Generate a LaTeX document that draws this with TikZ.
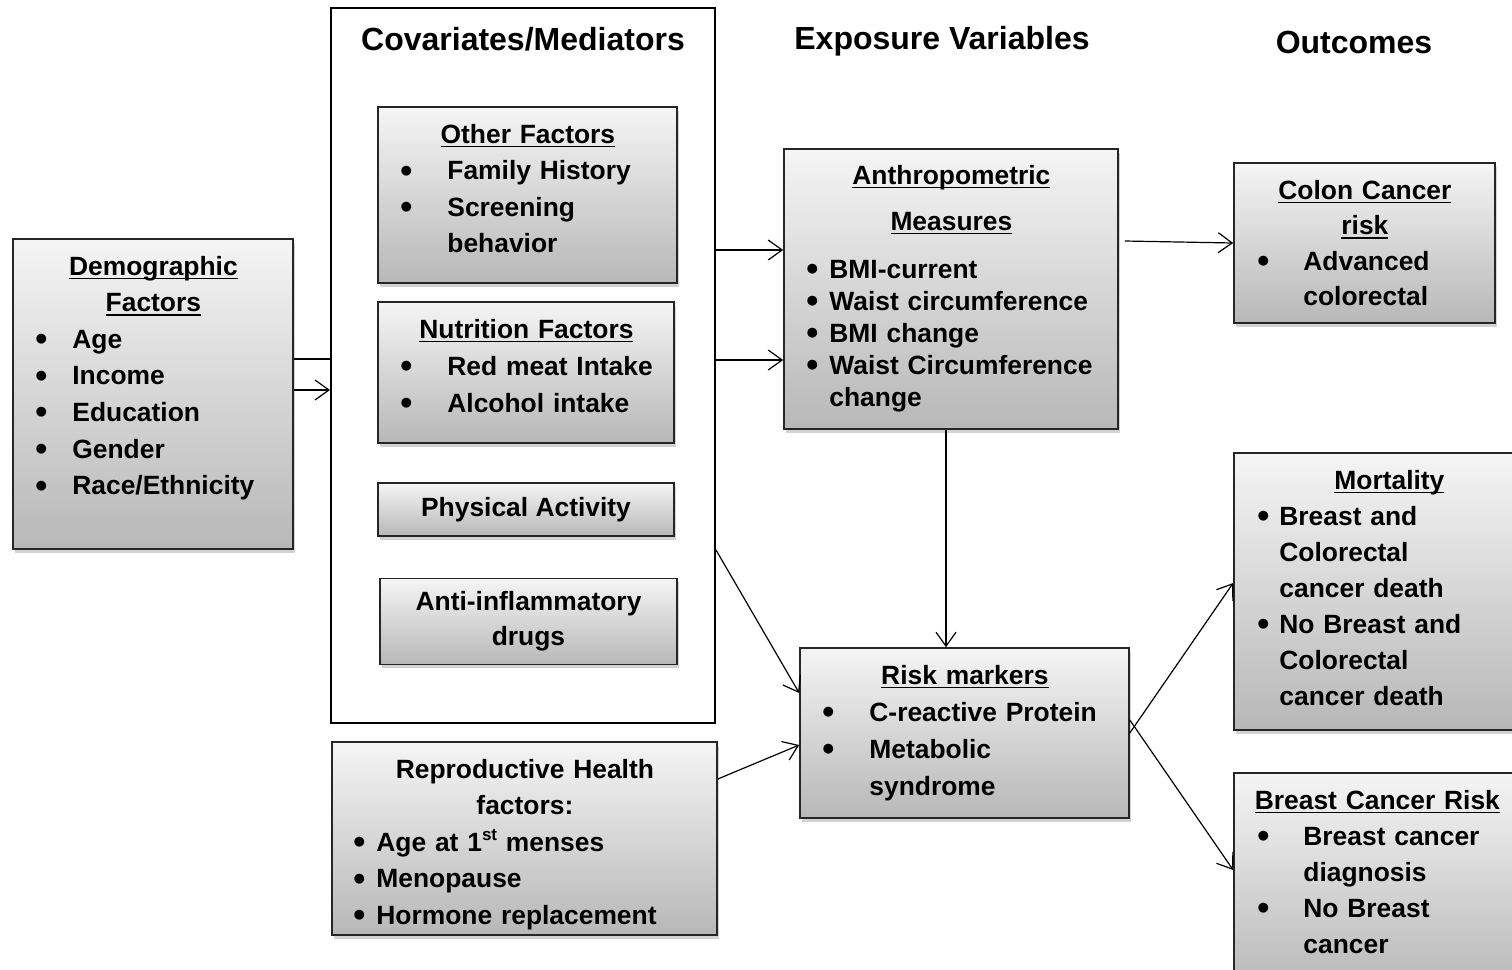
\documentclass[tikz,border=0pt]{standalone}
\usepackage{fontspec}
\setmainfont{Liberation Sans}
\usepackage{graphicx}
\usetikzlibrary{arrows.meta,shadows}

\newlength{\BulletIndent}
\newcommand{\uln}[1]{\mbox{\setbox0\hbox{#1}\rlap{\rule[-2.2pt]{\wd0}{0.9pt}}\box0}}
\newcommand{\hd}[1]{\makebox[\linewidth]{\uln{#1}}}
\newcommand{\ctr}[1]{\makebox[\linewidth]{#1}}
\newcommand{\bl}[1]{\mbox{\makebox[\BulletIndent][l]{\raisebox{-1.2pt}{\scalebox{1.3}{\textbullet}}}#1}}
\newcommand{\nx}[1]{\mbox{\hspace*{\BulletIndent}#1}}

\tikzstyle{Block}=[rectangle,draw=black!85,line width=0.8pt,top color=black!4,bottom color=black!28,
  drop shadow={shadow xshift=1.2pt,shadow yshift=-1.8pt,opacity=0.35}]
\tikzstyle{Frame}=[rectangle,draw=black,line width=1pt,fill=white]
\tikzstyle{ListText}=[anchor=base west,inner sep=0pt,align=left]
\tikzstyle{Title}=[anchor=base,inner sep=0pt,font=\bfseries\fontsize{16}{19}\selectfont]
\tikzstyle{ArrowObject}=[black,line width=0.6pt,-{Straight Barb[length=7pt,width=10pt]}]
\tikzstyle{LineObject}=[black,line width=0.6pt]
\tikzset{Indent/.style={execute at begin node={\setlength{\BulletIndent}{#1}}}}

\begin{document}
\begin{tikzpicture}[x=0.5pt, y=-0.5pt, font=\bfseries\fontsize{13.2}{18.3}\selectfont]
		\clip (0,0) rectangle (1512,970);
		
		% Covariates/Mediators frame
		\draw(523,365.5) node[Frame,minimum width=192pt,minimum height=357.5pt] (CovBox) {};
		
		% Column titles
		\draw(523,50) node[Title] (CovTitle) {Covariates/Mediators};
		\draw(942,49) node[Title] (ExpTitle) {Exposure Variables};
		\draw(1354,53) node[Title] (OutTitle) {Outcomes};
		
		% Demographic factors
		\draw(153,394) node[Block,minimum width=140pt,minimum height=155pt] (DemoBox) {};
		\draw(35,275) node[ListText,Indent=18.5pt,text width=118pt] (DemoText)
		  {\hd{Demographic}\\ \hd{Factors}\\ \bl{Age}\\ \bl{Income}\\ \bl{Education}\\ \bl{Gender}\\ \bl{Race/Ethnicity}};
		
		% Covariates
		\draw(527.5,195) node[Block,minimum width=149.5pt,minimum height=88pt] (OtherBox) {};
		\draw(400,143) node[ListText,Indent=23.5pt,text width=127.5pt] (OtherText)
		  {\hd{Other Factors}\\ \bl{Family History}\\ \bl{Screening}\\ \nx{behavior}};
		\draw(526,372.5) node[Block,minimum width=148pt,minimum height=70.5pt] (NutriBox) {};
		\draw(400,338) node[ListText,Indent=23.5pt,text width=126pt,font=\bfseries\fontsize{13.2}{18.5}\selectfont] (NutriText)
		  {\hd{Nutrition Factors}\\ \bl{Red meat Intake}\\ \bl{Alcohol intake}};
		\draw(526,509.5) node[Block,minimum width=148pt,minimum height=26.5pt] (PhysBox) {Physical Activity};
		\draw(528.5,621.5) node[Block,minimum width=148.5pt,minimum height=43pt,align=center,
		  font=\bfseries\fontsize{13.2}{17.5}\selectfont] (DrugBox) {Anti-inflammatory\\drugs};
		
		% Reproductive health
		\draw(524.5,838.5) node[Block,minimum width=192.5pt,minimum height=96.5pt] (ReproBox) {};
		\draw(353,778) node[ListText,Indent=11.5pt,text width=171.5pt] (ReproText)
		  {\ctr{Reproductive Health}\\ \ctr{factors:}\\ \bl{Age at 1\raisebox{5.5pt}{\fontsize{8.5}{9}\selectfont st} menses}\\ \bl{Menopause}\\ \bl{Hormone replacement}};
		
		% Exposure variables
		\draw(951,289) node[Block,minimum width=167pt,minimum height=140pt] (AnthroBox) {};
		\draw(806,184) node[ListText,Indent=11.5pt,text width=145pt,font=\bfseries\fontsize{13.2}{16}\selectfont] (AnthroText)
		  {\hd{Anthropometric}\\[7pt] \hd{Measures}\\[8pt] \bl{BMI-current}\\ \bl{Waist circumference}\\ \bl{BMI change}\\ \bl{Waist Circumference}\\ \nx{change}};
		\draw(964.5,733) node[Block,minimum width=164.5pt,minimum height=85pt] (RiskBox) {};
		\draw(822,684) node[ListText,Indent=23.5pt,text width=142.5pt,font=\bfseries\fontsize{13.2}{18.5}\selectfont] (RiskText)
		  {\hd{Risk markers}\\ \bl{C-reactive Protein}\\ \bl{Metabolic}\\ \nx{syndrome}};
		
		% Outcomes
		\draw(1364.5,243) node[Block,minimum width=130.5pt,minimum height=80pt] (ColonBox) {};
		\draw(1257,199) node[ListText,Indent=23pt,text width=107.5pt,font=\bfseries\fontsize{13.2}{17.8}\selectfont] (ColonText)
		  {\hd{Colon Cancer}\\ \hd{risk}\\ \bl{Advanced}\\ \nx{colorectal}};
		\draw(1382,591.5) node[Block,minimum width=148pt,minimum height=138.5pt] (MortBox) {};
		\draw(1257,489) node[ListText,Indent=11pt,text width=132pt,font=\bfseries\fontsize{13.2}{18}\selectfont] (MortText)
		  {\hd{Mortality}\\ \bl{Breast and}\\ \nx{Colorectal}\\ \nx{cancer death}\\ \bl{No Breast and}\\ \nx{Colorectal}\\ \nx{cancer death}};
		\draw(1382,881.5) node[Block,minimum width=148pt,minimum height=108.5pt] (BreastBox) {};
		\draw(1257,809) node[ListText,Indent=23pt,text width=120pt,font=\bfseries\fontsize{13.2}{18}\selectfont] (BreastText)
		  {\hd{Breast Cancer Risk}\\ \bl{Breast cancer}\\ \nx{diagnosis}\\ \bl{No Breast}\\ \nx{cancer}};
		
		% Arrow levels
		\coordinate (DemoLineY) at (0,359);
		\coordinate (DemoArrowY) at (0,390);
		\coordinate (CovAnthroY1) at (0,250);
		\coordinate (CovAnthroY2) at (0,360);
		\coordinate (CovRiskY) at (0,550);
		\coordinate (RiskInY1) at (0,693);
		\coordinate (ReproOutY) at (0,779);
		\coordinate (RiskInY2) at (0,745);
		\coordinate (MortInY) at (0,583);
		\coordinate (RiskOutY) at (0,720);
		\coordinate (BreastInY) at (0,870);
		\coordinate (DownX) at (946,0);
		
		% Arrows
		\draw[LineObject] (DemoBox.east |- DemoLineY) -- (CovBox.west |- DemoLineY);
		\draw[ArrowObject] (DemoBox.east |- DemoArrowY) -- (CovBox.west |- DemoArrowY);
		\draw[ArrowObject] (CovBox.east |- CovAnthroY1) -- (AnthroBox.west |- CovAnthroY1);
		\draw[ArrowObject] (CovBox.east |- CovAnthroY2) -- (AnthroBox.west |- CovAnthroY2);
		\draw[ArrowObject] (CovBox.east |- CovRiskY) -- (RiskBox.west |- RiskInY1);
		\draw[ArrowObject] (DownX |- AnthroBox.south) -- (DownX |- RiskBox.north);
		\draw[ArrowObject] (AnthroBox.east |- ColonBox.west) ++(6,-2) -- (ColonBox.west);
		\draw[ArrowObject] (ReproBox.east |- ReproOutY) -- (RiskBox.west |- RiskInY2);
		\draw[ArrowObject] (RiskBox.east) -- (MortBox.west |- MortInY);
		\draw[ArrowObject] (RiskBox.east |- RiskOutY) -- (BreastBox.west |- BreastInY);
		
	\end{tikzpicture}
\end{document}
